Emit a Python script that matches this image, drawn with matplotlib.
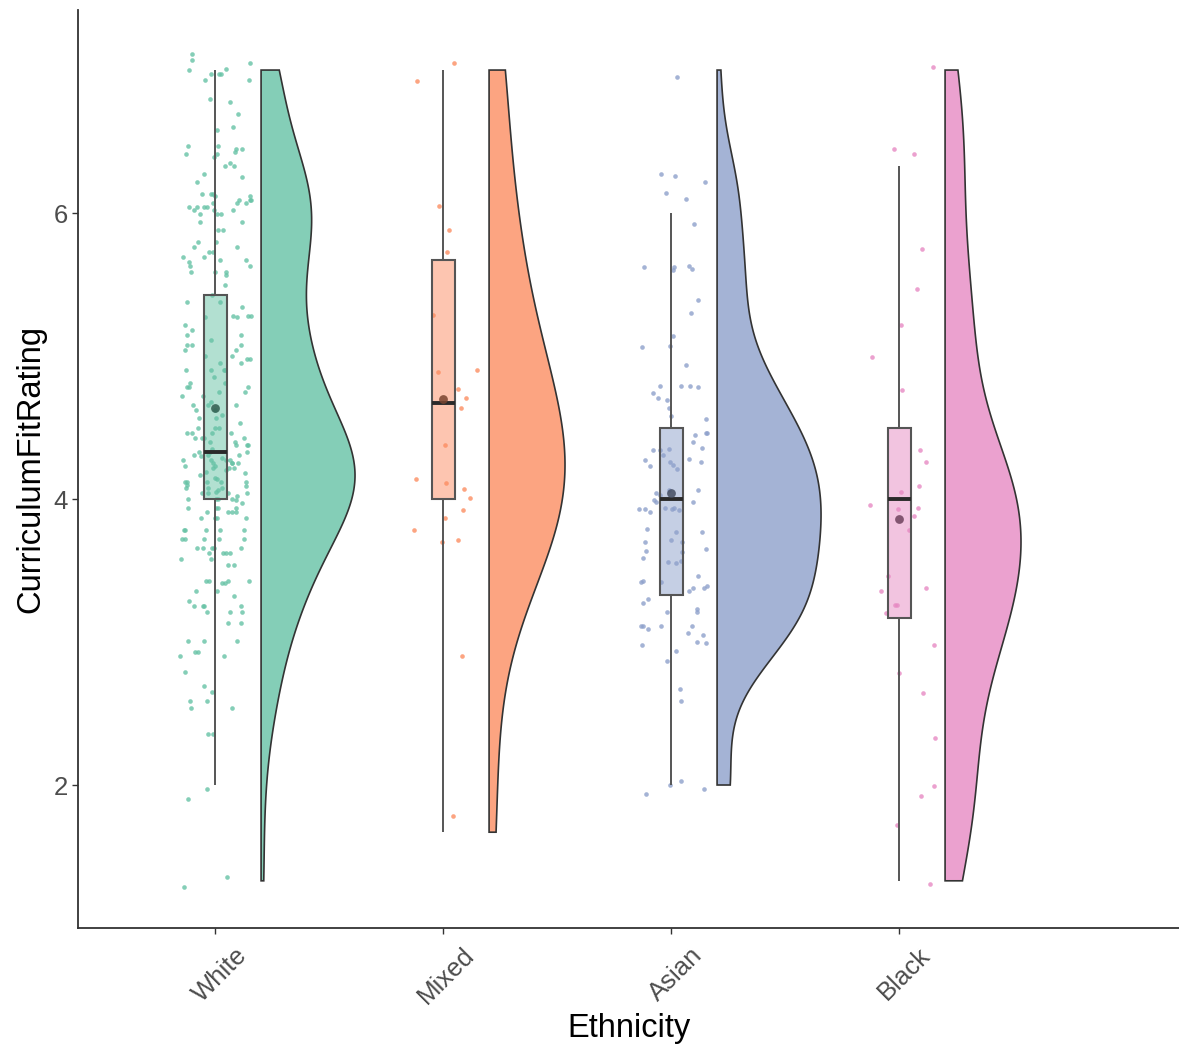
import numpy as np
import matplotlib
matplotlib.use("Agg")
import matplotlib.pyplot as plt
from matplotlib import transforms
from matplotlib.colors import to_rgba
from matplotlib.patches import Rectangle

plt.rcParams["font.family"] = ["Liberation Sans", "DejaVu Sans"]

GROUPS = ["White", "Mixed", "Asian", "Black"]
COLORS = ["#66C2A5", "#FC8D62", "#8DA0CB", "#E78AC3"]

# Individual ratings per group
WHITE = [
    7.11, 7.07, 7.05, 7.01, 7.00, 6.97, 6.97, 6.97, 6.93, 6.93, 6.80, 6.78,
    6.69, 6.60, 6.58, 6.47, 6.47, 6.45, 6.45, 6.43, 6.41, 6.41, 6.39, 6.35,
    6.33, 6.33, 6.27, 6.25, 6.22, 6.13, 6.13, 6.13, 6.12, 6.12, 6.09, 6.09,
    6.09, 6.07, 6.07, 6.07, 6.04, 6.04, 6.04, 6.04, 6.02, 6.02, 6.02, 5.99,
    5.99, 5.99, 5.94, 5.94, 5.88, 5.88, 5.80, 5.80, 5.76, 5.76, 5.73, 5.73,
    5.69, 5.69, 5.67, 5.67, 5.66, 5.63, 5.63, 5.59, 5.59, 5.59, 5.57, 5.50,
    5.43, 5.38, 5.38, 5.34, 5.28, 5.28, 5.28, 5.27, 5.27, 5.22, 5.18, 5.15,
    5.15, 5.11, 5.08, 5.08, 5.08, 5.04, 5.04, 5.00, 5.00, 4.98, 4.98, 4.95,
    4.95, 4.90, 4.90, 4.90, 4.90, 4.85, 4.81, 4.81, 4.78, 4.78, 4.78, 4.75,
    4.75, 4.72, 4.72, 4.68, 4.66, 4.66, 4.66, 4.62, 4.62, 4.59, 4.57, 4.57,
    4.53, 4.50, 4.50, 4.50, 4.46, 4.46, 4.46, 4.46, 4.43, 4.43, 4.43, 4.43,
    4.40, 4.40, 4.38, 4.38, 4.38, 4.35, 4.33, 4.33, 4.33, 4.31, 4.31, 4.31,
    4.30, 4.29, 4.27, 4.27, 4.27, 4.27, 4.25, 4.25, 4.25, 4.25, 4.23, 4.23,
    4.22, 4.22, 4.22, 4.20, 4.19, 4.18, 4.17, 4.15, 4.14, 4.12, 4.12, 4.12,
    4.12, 4.12, 4.10, 4.09, 4.08, 4.08, 4.08, 4.06, 4.05, 4.04, 4.04, 4.04,
    4.04, 4.02, 4.00, 4.00, 4.00, 4.00, 3.99, 3.97, 3.94, 3.94, 3.94, 3.94,
    3.91, 3.91, 3.91, 3.91, 3.87, 3.87, 3.87, 3.87, 3.78, 3.78, 3.78, 3.78,
    3.78, 3.72, 3.72, 3.72, 3.72, 3.72, 3.66, 3.66, 3.66, 3.66, 3.66, 3.62,
    3.62, 3.62, 3.62, 3.58, 3.58, 3.54, 3.54, 3.43, 3.43, 3.43, 3.43, 3.41,
    3.41, 3.36, 3.36, 3.32, 3.29, 3.25, 3.25, 3.25, 3.25, 3.21, 3.21, 3.21,
    3.13, 3.13, 3.01, 3.01, 3.01, 2.93, 2.93, 2.90, 2.90, 2.79, 2.69, 2.65,
    2.59, 2.59, 2.54, 2.54, 2.36, 2.36, 1.97, 1.90, 1.36, 1.29,
]
MIXED = [
    7.05, 6.92, 6.05, 5.88, 5.73, 5.29, 4.90, 4.89, 4.77, 4.71, 4.64, 4.38,
    4.14, 4.11, 4.07, 4.01, 3.92, 3.87, 3.78, 3.70, 3.71, 2.90, 1.78,
]
ASIAN = [
    6.95, 6.26, 6.27, 6.22, 6.14, 6.10, 5.92, 5.63, 5.60, 5.62, 5.62, 5.61,
    5.39, 5.30, 5.14, 5.06, 5.07, 4.94, 4.79, 4.79, 4.79, 4.78, 4.74, 4.69,
    4.64, 4.71, 4.56, 4.58, 4.45, 4.46, 4.46, 4.40, 4.35, 4.36, 4.34, 4.31,
    4.34, 4.27, 4.28, 4.23, 4.26, 4.21, 4.24, 4.04, 4.06, 3.98, 3.94, 3.92,
    3.93, 3.99, 3.98, 3.91, 3.94, 4.06, 4.03, 3.93, 3.77, 3.77, 3.70, 3.64,
    3.65, 3.70, 3.79, 3.71, 3.63, 3.57, 3.56, 3.59, 3.55, 3.46, 3.39, 3.38,
    3.36, 3.42, 3.38, 3.42, 3.30, 3.27, 3.23, 3.21, 3.21, 3.11, 3.09, 3.11,
    3.11, 3.11, 3.06, 3.05, 2.99, 3.00, 2.94, 2.98, 2.87, 2.67, 2.59, 2.00,
    1.94, 2.03, 1.97, 3.93, 3.43, 4.26,
]
BLACK = [
    7.02, 6.45, 6.41, 5.75, 5.47, 5.22, 4.99, 4.76, 4.34, 4.26, 4.09, 4.05,
    3.96, 3.93, 3.88, 3.94, 3.78, 3.46, 3.38, 3.36, 3.26, 3.26, 3.20, 2.98,
    2.78, 2.64, 2.33, 1.99, 1.92, 1.72, 1.31,
]
RATINGS = [WHITE, MIXED, ASIAN, BLACK]

# Box summaries
Q1 = [4.00, 4.00, 3.33, 3.17]
MEDIAN = [4.33, 4.67, 4.00, 4.00]
Q3 = [5.43, 5.67, 4.50, 4.50]
WHISKER_LO = [2.00, 1.67, 2.00, 1.33]
WHISKER_HI = [7.00, 7.00, 6.00, 6.33]
MEANS = [4.64, 4.70, 4.04, 3.86]
RATING_MIN = [1.33, 1.67, 2.00, 1.33]
RATING_MAX = [7.00, 7.00, 7.00, 7.00]

BOX_W = 0.1
JITTER_W = 0.155
VIOLIN_NUDGE = 0.2
# widest point of each half violin, in category units
VIOLIN_W = [0.412, 0.333, 0.456, 0.333]
# kernel bandwidth multipliers
BW_ADJUST = [1.0, 1.5, 1.0, 1.0]


def density(values, lo, hi, adjust=1.0, n=512):
    """Gaussian KDE with R's bw.nrd0 bandwidth, trimmed to [lo, hi]."""
    v = np.asarray(values, dtype=float)
    iqr = np.subtract(*np.percentile(v, [75, 25]))
    bw = adjust * 0.9 * min(v.std(ddof=1), iqr / 1.34) * len(v) ** -0.2
    grid = np.linspace(lo, hi, n)
    z = (grid[:, None] - v[None, :]) / bw
    dens = np.exp(-0.5 * z ** 2).sum(axis=1) / (len(v) * bw * np.sqrt(2 * np.pi))
    return grid, dens


def spread(n, seed):
    """Deterministic offsets in [-1, 1) for horizontal jitter."""
    k = np.arange(n) + seed
    return (k * k * 0.41421356 + k * 0.7548777) % 1.0 * 2 - 1


fig = plt.figure(figsize=(11.79, 10.48), dpi=100)
ax = fig.add_axes([78 / 1179, 1 - 928 / 1048, 1 - 78 / 1179, (928 - 10) / 1048])

for i, (vals, color) in enumerate(zip(RATINGS, COLORS)):
    x = i + 1
    vals = np.asarray(vals)

    # jittered raw points
    offs = spread(len(vals), 3 * i + 1) * JITTER_W
    ax.scatter(x + offs, vals, s=11, color=color, alpha=0.8, linewidths=0, zorder=2)

    # box and whiskers
    ax.vlines(x, WHISKER_LO[i], Q1[i], color="#555555", lw=1.4, zorder=3)
    ax.vlines(x, Q3[i], WHISKER_HI[i], color="#555555", lw=1.4, zorder=3)
    ax.add_patch(Rectangle((x - BOX_W / 2, Q1[i]), BOX_W, Q3[i] - Q1[i],
                           facecolor=to_rgba(color, 0.5), edgecolor="#555555",
                           lw=1.5, zorder=3))
    ax.hlines(MEDIAN[i], x - BOX_W / 2, x + BOX_W / 2, color="#2a2a2a", lw=2.8, zorder=4)
    dark = tuple(0.48 * c for c in to_rgba(color)[:3])
    ax.scatter([x], [MEANS[i]], s=40, color=dark, alpha=0.85, linewidths=0, zorder=5)

    # half violin
    grid, dens = density(vals, RATING_MIN[i], RATING_MAX[i], BW_ADJUST[i])
    x0 = x + VIOLIN_NUDGE
    w = dens / dens.max() * VIOLIN_W[i]
    px = np.concatenate([[x0], x0 + w, [x0]])
    py = np.concatenate([[grid[0]], grid, [grid[-1]]])
    ax.fill(px, py, facecolor=to_rgba(color, 0.8), edgecolor="#333333",
            lw=1.2, zorder=3)

ax.set_xlim(0.397, 5.226)
ax.set_ylim(1.0, 7.42)
ax.set_yticks([2, 4, 6])
ax.set_xticks([1, 2, 3, 4])
ax.set_xticklabels(GROUPS)
for sp in ["top", "right"]:
    ax.spines[sp].set_visible(False)
for sp in ["left", "bottom"]:
    ax.spines[sp].set_color("#333333")
    ax.spines[sp].set_linewidth(1.3)
ax.tick_params(axis="both", colors="#333333", length=4, width=1.0,
               labelsize=18.5, labelcolor="#4D4D4D")
ax.tick_params(axis="x", pad=3)

shift = transforms.ScaledTranslation(0.19, -0.05, fig.dpi_scale_trans)
for lab in ax.get_xticklabels():
    lab.set_rotation(45)
    lab.set_ha("right")
    lab.set_va("top")
    lab.set_rotation_mode("anchor")
    lab.set_transform(lab.get_transform() + shift)

ax.set_xlabel("Ethnicity", fontsize=23.5, labelpad=3)
ax.set_ylabel("CurriculumFitRating", fontsize=23.5, labelpad=5)

fig.savefig("out.png", dpi=100)
